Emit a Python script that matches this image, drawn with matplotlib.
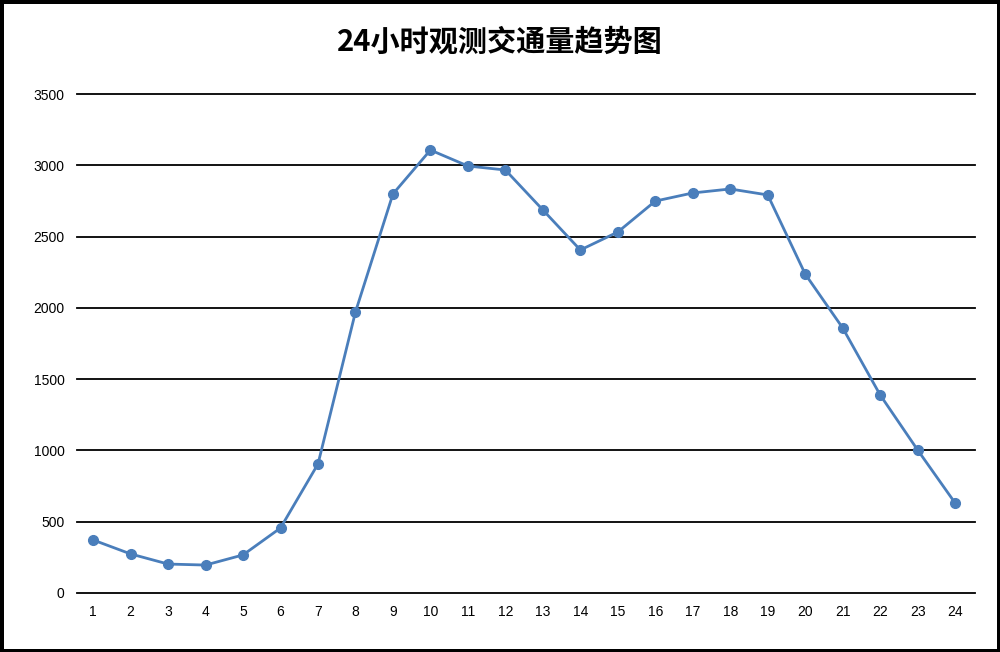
import matplotlib.pyplot as plt

plt.rcParams['font.family'] = ['Noto Sans CJK SC', 'DejaVu Sans']

hours = list(range(1, 25))
traffic = [372, 274, 203, 196, 267, 456, 905, 1971, 2799, 3107, 2995, 2967,
           2687, 2406, 2532, 2749, 2806, 2834, 2792, 2237, 1859, 1389, 1003, 631]
y_ticks = [0, 500, 1000, 1500, 2000, 2500, 3000, 3500]

fig = plt.figure(figsize=(10, 6.52), dpi=100)
fig.patch.set_edgecolor('black')
fig.patch.set_linewidth(5)
ax = fig.add_axes([0.077, 0.0905, 0.898, 0.7653])

# gridlines like excel
for t in y_ticks:
    ax.axhline(t, color='black', linewidth=1.3, zorder=1, clip_on=False)

ax.plot(hours, traffic, color='#4a7ebb', linewidth=2, marker='o',
        markersize=7, zorder=3)

ax.set_xlim(0.57, 24.53)
ax.set_ylim(0, 3500)
ax.set_xticks(hours)
ax.set_xticklabels([str(h) for h in hours], family='Liberation Sans', fontsize=10)
ax.set_yticks(y_ticks)
ax.set_yticklabels([str(t) for t in y_ticks], family='Liberation Sans', fontsize=10)
ax.tick_params(length=0, pad=9)
for s in ax.spines.values():
    s.set_visible(False)

fig.text(0.5, 0.936, '24小时观测交通量趋势图', ha='center', va='center',
         fontsize=21, fontweight='bold')

fig.savefig('out.png', dpi=100, edgecolor=fig.get_edgecolor())
